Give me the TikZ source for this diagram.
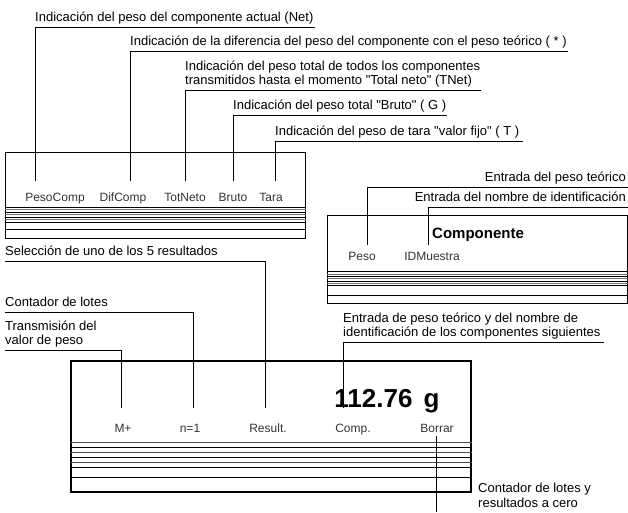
\documentclass[tikz,border=0pt]{standalone}
\usepackage{fontspec}
\setmainfont{Liberation Sans}[Ligatures=TeXOff]
\usetikzlibrary{positioning}

\begin{document}
\begin{tikzpicture}[x=1pt, y=-1pt,
    note/.style={font=\fontsize{13}{14.5}\selectfont, align=left, inner xsep=0pt, inner ysep=2pt, text depth=3pt},
    key/.style={font=\fontsize{12}{14}\selectfont, text=black!80, inner sep=0pt, anchor=base},
    leader/.style={line width=0.7pt},
    panel/.style={draw, line width=0.8pt, inner sep=0pt, anchor=north west},
    rule/.style={line width=0.6pt}]
\useasboundingbox (0,0) rectangle (628,512);

% display showing the five results
\node (resbox) [panel, minimum width=300, minimum height=86] at (5,152) {};
\foreach \y/\c in {207/black, 209.5/black!55, 212/black, 214.5/black!55, 217/black, 219.5/black!55, 222/black, 229/black}
    \draw [rule, \c] (resbox.west |- 0,\y) -- (resbox.east |- 0,\y);
\node (pesocomp) [key] at (55,201) {PesoComp};
\node (difcomp) [key] at (123,201) {DifComp};
\node (totneto) [key] at (185,201) {TotNeto};
\node (bruto) [key] at (233,201) {Bruto};
\node (tara) [key] at (271,201) {Tara};
\coordinate (pc) at (35,181);
\coordinate (dc) at (130,181);
\coordinate (tn) at (185,181);
\coordinate (br) at (233,181);
\coordinate (ta) at (275,181);
\node (net) [note, anchor=south west] at (35,27) {Indicación del peso del componente actual (Net)};
\node (dif) [note, anchor=south west] at (130,51) {Indicación de la diferencia del peso del componente con el peso teórico ( * )};
\node (tnet) [note, anchor=south west] at (185,90) {Indicación del peso total de todos los componentes\\transmitidos hasta el momento "Total neto" (TNet)};
\node (gross) [note, anchor=south west] at (233,115) {Indicación del peso total "Bruto" ( G )};
\node (tare) [note, anchor=south west] at (275,141) {Indicación del peso de tara "valor fijo" ( T )};
\draw [leader] (pc) |- ([xshift=1pt]net.south east);
\draw [leader] (dc) |- ([xshift=1pt]dif.south east);
\draw [leader] (tn) |- ([xshift=1pt]tnet.south east);
\draw [leader] (br) |- ([xshift=1pt]gross.south east);
\draw [leader] (ta) |- ([xshift=4pt]tare.south east);

% component entry display
\node (compbox) [panel, minimum width=300, minimum height=88] at (327,215) {};
\foreach \y/\c in {271.7/black, 274/black!55, 276.3/black, 278.6/black!55, 281/black, 283.3/black!55, 285.7/black, 295.7/black}
    \draw [rule, \c] (compbox.west |- 0,\y) -- (compbox.east |- 0,\y);
\node (title) [font=\bfseries\fontsize{15}{18}\selectfont, anchor=base] at (478,238) {Componente};
\node (peso) [key] at (362,260) {Peso};
\node (idm) [key] at (432,260) {IDMuestra};
\coordinate (pe) at (367,245);
\coordinate (id) at (428,245);
\node (setp) [note, anchor=south east] at (626,187) {Entrada del peso teórico};
\node (name) [note, anchor=south east] at (626,207) {Entrada del nombre de identificación};
\draw [leader] (pe) |- ([xshift=2pt]setp.south east);
\draw [leader] (id) |- ([xshift=2pt]name.south east);

% main weighing display
\node (mainbox) [panel, line width=2pt, minimum width=400, minimum height=131] at (70,360) {};
\foreach \y/\c in {442.5/black!70, 447.5/black, 452.5/black!70, 457.5/black, 462.5/black!70, 467.5/black, 477/black}
    \draw [rule, \c] (mainbox.west |- 0,\y) -- (mainbox.east |- 0,\y);
\node (weight) [font=\bfseries\fontsize{26}{30}\selectfont, anchor=base, inner sep=0pt] at (387,407) {112.76\hspace{4pt} g};
\node (mplus) [key] at (123,432) {M+};
\node (count) [key] at (190,432) {n=1};
\node (result) [key] at (268,432) {Result.};
\node (comp) [key] at (353,432) {Comp.};
\node (clear) [key] at (437,432) {Borrar};
\coordinate (mp) at (121,408);
\coordinate (n1) at (193,408);
\coordinate (rs) at (265,408);
\coordinate (cp) at (343,408);
\coordinate (bo) at (436,436);
\coordinate (boend) at (436,512);
\node (sel) [note, anchor=south west] at (5,261) {Selección de uno de los 5 resultados};
\node (lots) [note, anchor=south west] at (5,312) {Contador de lotes};
\node (trans) [note, anchor=south west] at (5,350) {Transmisión del\\valor de peso};
\node (next) [note, anchor=south west] at (343,342) {Entrada de peso teórico y del nombre de\\identificación de los componentes siguientes};
\node (reset) [note, anchor=north west] at (478,481) {Contador de lotes y\\resultados a cero};
\draw [leader] (sel.south west) -| (rs);
\draw [leader] (lots.south west) -| (n1);
\draw [leader] (trans.south west) -| (mp);
\draw [leader] (cp) |- ([xshift=3pt]next.south east);
\draw [leader] (bo) -- (boend);
\end{tikzpicture}
\end{document}
